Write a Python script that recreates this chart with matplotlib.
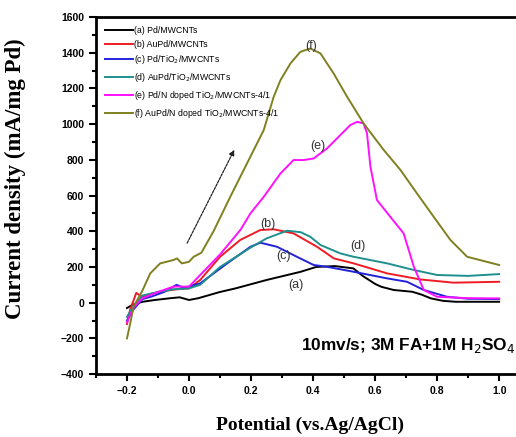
import matplotlib
matplotlib.use("Agg")
import matplotlib.pyplot as plt
from matplotlib.ticker import MultipleLocator

# (a) Pd/MWCNTs
xa = [-0.2, -0.18, -0.15, -0.11, -0.06, -0.03, 0.0, 0.03, 0.1, 0.15, 0.25, 0.36, 0.41, 0.47,
      0.53, 0.56, 0.6, 0.62, 0.66, 0.72, 0.75, 0.78, 0.82, 0.86, 0.9, 1.0]
ya = [-30, -10, 5, 15, 25, 30, 15, 25, 60, 80, 127, 173, 200, 205,
      192, 150, 105, 89, 71, 61, 45, 24, 10, 5, 5, 5]

# (b) AuPd/MWCNTs
xb = [-0.2, -0.19, -0.17, -0.15, -0.12, -0.08, -0.04, 0.0, 0.036, 0.1, 0.165, 0.23, 0.273,
      0.337, 0.413, 0.467, 0.531, 0.639, 0.746, 0.853, 1.0]
yb = [-120, -40, 55, 30, 50, 65, 75, 80, 127, 257, 351, 407, 411,
      388, 313, 248, 220, 164, 130, 112, 117]

# (c) Pd/TiO2/MWCNTs
xc = [-0.2, -0.18, -0.15, -0.12, -0.08, -0.04, -0.02, 0.0, 0.036, 0.123, 0.198, 0.23, 0.284,
      0.348, 0.402, 0.445, 0.531, 0.639, 0.703, 0.757, 0.832, 0.9, 1.0]
yc = [-100, -40, 20, 35, 60, 100, 85, 90, 108, 220, 313, 336, 313,
      257, 211, 201, 173, 136, 117, 71, 33, 22, 20]

# (d) AuPd/TiO2/MWCNTs
xd = [-0.2, -0.18, -0.15, -0.1, -0.05, 0.0, 0.036, 0.1, 0.2, 0.25, 0.316, 0.36, 0.391, 0.424,
      0.488, 0.531, 0.639, 0.725, 0.8, 0.9, 1.0]
yd = [-80, -20, 40, 60, 75, 80, 100, 200, 310, 360, 403, 395, 369, 323,
      276, 257, 220, 183, 155, 150, 160]

# (e) Pd/N doped TiO2/MWCNTs-4/1
xe = [-0.2, -0.18, -0.15, -0.1, -0.05, 0.0, 0.036, 0.1, 0.166, 0.198, 0.241, 0.295, 0.337, 0.37,
      0.402, 0.445, 0.52, 0.542, 0.563, 0.574, 0.585, 0.606, 0.649, 0.692, 0.725, 0.757,
      0.8, 0.9, 1.0]
ye = [-110, -30, 25, 60, 90, 90, 155, 270, 408, 500, 593, 724, 799, 799,
      808, 864, 995, 1013, 1004, 948, 761, 575, 481, 388, 201, 71,
      33, 25, 24]

# (f) AuPd/N doped TiO2/MWCNTs-4/1
xf = [-0.2, -0.19, -0.179, -0.152, -0.125, -0.093, -0.05, -0.039, -0.023, 0.0, 0.015, 0.04,
      0.079, 0.133, 0.187, 0.241, 0.273, 0.295, 0.327, 0.359, 0.391, 0.424, 0.466, 0.51,
      0.563, 0.628, 0.682, 0.735, 0.789, 0.843, 0.897, 1.0]
yf = [-200, -120, -23, 61, 164, 220, 239, 248, 220, 229, 257, 280,
      400, 593, 780, 967, 1153, 1247, 1340, 1405, 1424, 1396, 1285, 1153,
      1004, 855, 743, 612, 481, 351, 257, 211]

labels = ["(a) Pd/MWCNTs", "(b) AuPd/MWCNTs", "(c) Pd/TiO$_2$/MWCNTs",
          "(d) AuPd/TiO$_2$/MWCNTs", "(e) Pd/N doped TiO$_2$/MWCNTs-4/1",
          "(f) AuPd/N doped TiO$_2$/MWCNTs-4/1"]
colors = ["black", "#ee1c24", "#2222dd", "#1f8f8f", "#ff10ff", "#808020"]

fig = plt.figure(figsize=(5.16, 4.37), dpi=100)
ax = fig.add_axes([0.186, 0.144, 0.83, 0.817])

series = [(xa, ya), (xb, yb), (xc, yc), (xd, yd), (xe, ye), (xf, yf)]
for (x, y), lab, c in zip(series, labels, colors):
    ax.plot(x, y, color=c, lw=1.4, label=lab)

ax.set_xlim(-0.3, 1.081)
ax.set_ylim(-400, 1600)
ax.xaxis.set_major_locator(MultipleLocator(0.2))
ax.xaxis.set_minor_locator(MultipleLocator(0.1))
ax.yaxis.set_major_locator(MultipleLocator(200))
ax.yaxis.set_minor_locator(MultipleLocator(100))
ax.tick_params(which="both", direction="out", width=1.5, top=False, right=False)
ax.tick_params(which="major", length=5)
ax.tick_params(which="minor", length=3)
for t in ax.get_xticklabels() + ax.get_yticklabels():
    t.set_family("Liberation Sans")
    t.set_fontsize(7.5)
    t.set_fontweight("bold")
for s in ax.spines.values():
    s.set_linewidth(2)
ax.spines["right"].set_visible(False)

ax.set_xlabel("Potential (vs.Ag/AgCl)", family="Liberation Serif", fontweight="bold",
              fontsize=14, labelpad=15)
ax.set_ylabel("Current density (mA/mg Pd)", family="Liberation Serif", fontweight="bold",
              fontsize=16.5)
ax.yaxis.set_label_coords(-0.164, 0.546)

leg = ax.legend(loc="upper left", frameon=False, handlelength=3.2,
                handletextpad=0.2, labelspacing=0.55, borderaxespad=0.6,
                prop={"family": "Liberation Sans", "size": 6.3})

ax.annotate("", xy=(0.15, 870), xytext=(-0.01, 320),
            arrowprops=dict(arrowstyle="-|>", color="#222222", lw=0.9, linestyle=(0, (2, 1)),
                            mutation_scale=8))

lab_kw = dict(family="Liberation Sans", fontsize=9, ha="center", va="center", color="#333333")
ax.text(0.394, 1440, "(f)", **lab_kw)
ax.text(0.415, 880, "(e)", **lab_kw)
ax.text(0.255, 440, "(b)", **lab_kw)
ax.text(0.305, 260, "(c)", **lab_kw)
ax.text(0.345, 100, "(a)", **lab_kw)
ax.text(0.545, 320, "(d)", **lab_kw)

ax.text(0.36, -240, "10mv/s; 3M FA+1M H$_2$SO$_4$", family="Liberation Sans",
        fontweight="bold", fontsize=12.4, ha="left", va="center")

fig.savefig("out.png", dpi=100)
